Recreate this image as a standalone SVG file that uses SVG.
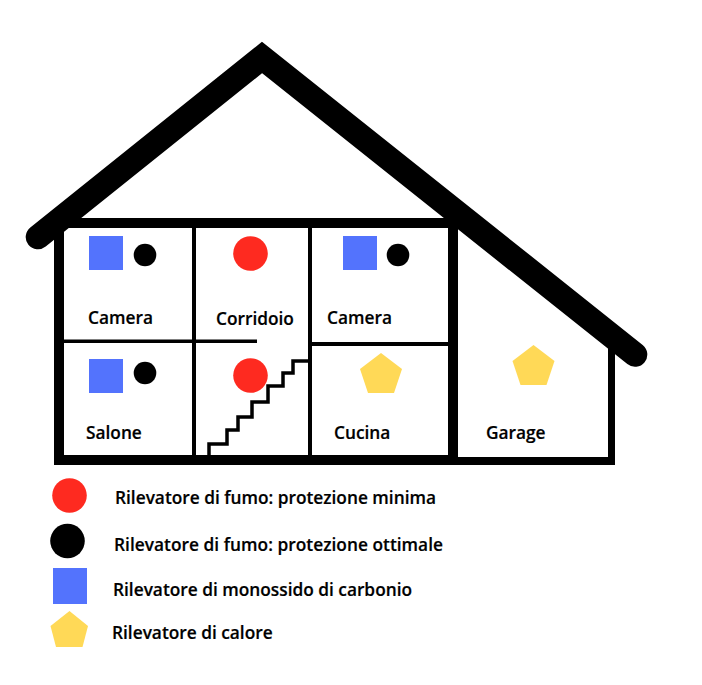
<svg xmlns="http://www.w3.org/2000/svg" width="702" height="685" viewBox="0 0 702 685">
<style>
text{font-family:"Open Sans","Liberation Sans",sans-serif;font-weight:600;font-size:17.3px;fill:#000;stroke:#000;stroke-width:.2}
.red{fill:#fe2a20}.blk{fill:#000}.blu{fill:#5373fd}.yel{fill:#ffd957}
</style>
<rect width="702" height="685" fill="#fff"/>
<g id="house">
<path d="M38 237L262 57.500L635 354.500" fill="none" stroke="#000" stroke-width="24.600" stroke-linecap="round" stroke-linejoin="miter"/>
<rect x="54" y="228" width="10" height="237"/>
<rect x="54" y="218" width="404" height="10"/>
<rect x="54" y="455" width="404" height="10"/>
<rect x="448" y="218" width="10" height="247"/>
<rect x="458" y="457" width="157" height="8"/>
<rect x="608" y="348" width="7" height="117"/>
<rect x="192" y="228" width="4" height="227"/>
<rect x="308" y="228" width="4" height="227"/>
<rect x="64" y="339.500" width="193" height="3.500"/>
<rect x="312" y="342" width="136" height="4"/>
<path d="M209 455V444H227V430H238V417H252V402H268V386H283V373H293V361H308" fill="none" stroke="#000" stroke-width="3.500"/>
</g>
<g id="room-camera-1">
<rect class="blu" x="89" y="236" width="34" height="34"/><circle class="blk" cx="145" cy="255" r="11.300"/>
<text x="88" y="323.500">Camera</text>
</g>
<g id="room-corridoio">
<circle class="red" cx="250.500" cy="253.500" r="17.300"/>
<text x="216" y="324.500">Corridoio</text>
</g>
<g id="room-camera-2">
<rect class="blu" x="343" y="236" width="34" height="34"/><circle class="blk" cx="398" cy="255" r="11.300"/>
<text x="327" y="323.500">Camera</text>
</g>
<g id="room-salone">
<rect class="blu" x="89" y="359" width="34" height="34"/><circle class="blk" cx="145" cy="373" r="11.300"/>
<text x="86" y="438.500">Salone</text>
</g>
<g id="room-scale">
<circle class="red" cx="250.500" cy="375.500" r="17.300"/>
</g>
<g id="room-cucina">
<path class="yel" d="M381 353L402 369L394 393H368L360 369Z"/>
<text x="334" y="438.500">Cucina</text>
</g>
<g id="room-garage">
<path class="yel" d="M533.500 345L554.500 361L546.500 385H520.500L512.500 361Z"/>
<text x="486" y="438.500">Garage</text>
</g>
<g id="legend">
<g id="legend-min"><circle class="red" cx="69.500" cy="495.500" r="17.300"/><text x="115" y="503.500">Rilevatore di fumo: protezione minima</text></g>
<g id="legend-opt"><circle class="blk" cx="67.500" cy="541" r="17.300"/><text x="114" y="550.500" textLength="329">Rilevatore di fumo: protezione ottimale</text></g>
<g id="legend-co"><rect class="blu" x="53" y="568" width="34" height="36"/><text x="113" y="595.500">Rilevatore di monossido di carbonio</text></g>
<g id="legend-heat"><path class="yel" d="M69.500 611L88 626L82.500 647H56L50.500 626Z"/><text x="112" y="638.500">Rilevatore di calore</text></g>
</g>
</svg>
